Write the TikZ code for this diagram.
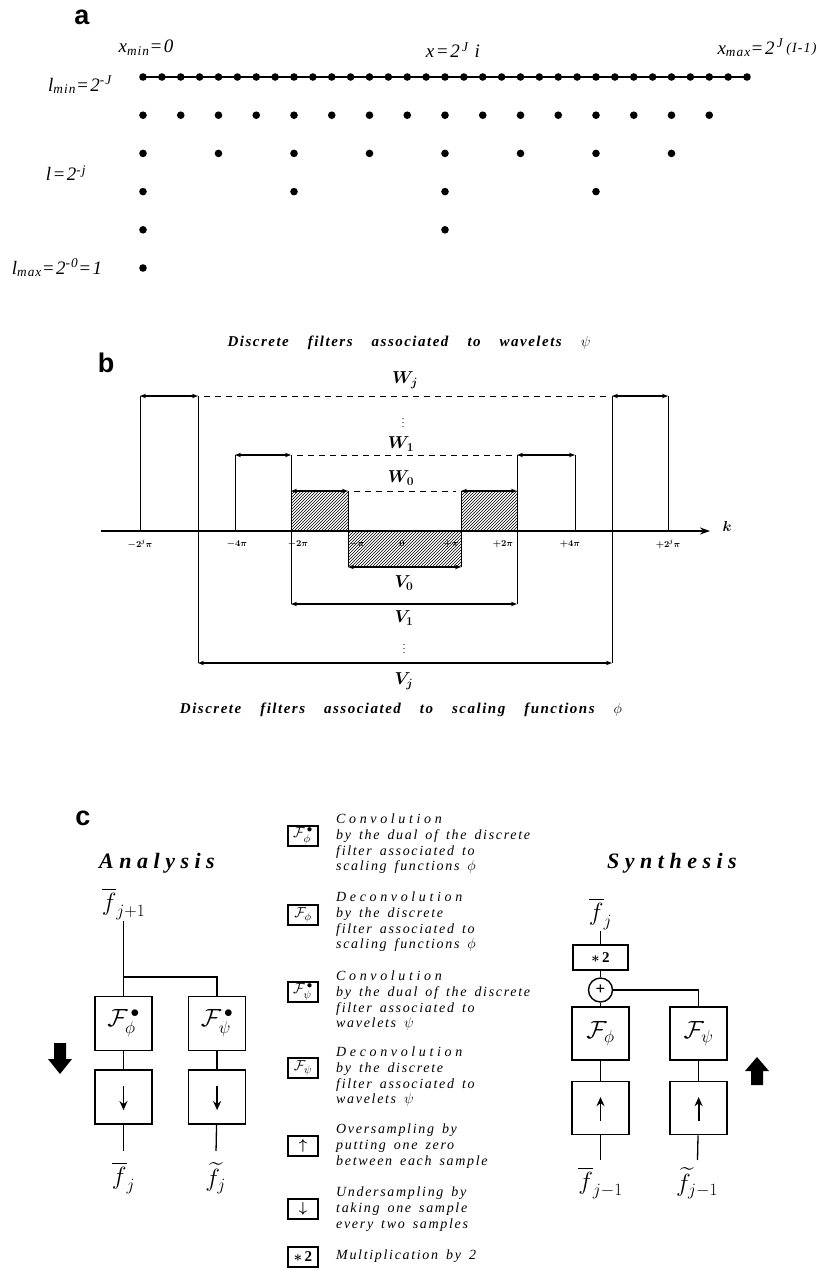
\documentclass[tikz,border=0pt]{standalone}
\usepackage{amsmath}
\usepackage{fontspec}
\setmainfont{Liberation Serif}
\setsansfont{Liberation Sans}
\usetikzlibrary{arrows.meta, positioning, patterns, calc}

\newcommand{\lsub}[1]{\textsubscript{#1}}
\newcommand{\lsup}[1]{\textsuperscript{#1}}
\newcommand{\wide}[2]{{\addfontfeatures{LetterSpace=#1}#2}}
\newcommand{\gaps}[1]{\spaceskip=#1\relax}

\begin{document}
\begin{tikzpicture}[
  x=1pt, y=-1pt,
  plbl/.style={font=\sffamily\bfseries\fontsize{27}{29}\selectfont, inner sep=0pt},
  lbl/.style={font=\fontsize{19}{22}\selectfont\itshape, inner sep=1pt},
  captxt/.style={font=\fontsize{15}{17}\selectfont\bfseries\itshape, inner sep=1pt},
  band/.style={line width=1pt},
  wbar/.style={line width=1.6pt, {Stealth[length=6pt,width=4.5pt]}-{Stealth[length=6pt,width=4.5pt]}},
  gapln/.style={line width=1pt, dash pattern=on 6pt off 5pt},
  hatch/.style={pattern=north east lines},
  ticklbl/.style={font=\fontsize{9}{10}\selectfont\boldmath, inner sep=0pt},
  wlab/.style={font=\fontsize{17}{19}\selectfont\boldmath, inner sep=0pt},
  vdot/.style={font=\fontsize{10}{10}\selectfont\boldmath, inner sep=0pt},
  ttl/.style={font=\fontsize{22}{25}\selectfont\bfseries\itshape, inner sep=1pt},
  sig/.style={font=\fontsize{23}{26}\selectfont, inner sep=1pt},
  fbox/.style={draw, line width=1.6pt, minimum width=57pt, minimum height=54pt, inner sep=0pt,
               font=\fontsize{24}{26}\selectfont},
  mbox/.style={draw, line width=1.6pt, minimum width=55pt, minimum height=25pt, inner sep=0pt,
               font=\fontsize{15}{16}\selectfont\bfseries},
  pls/.style={draw, circle, line width=1.4pt, minimum size=24pt, inner sep=0pt,
              font=\fontsize{17}{17}\selectfont\bfseries},
  lgbox/.style={draw, line width=1.2pt, minimum width=30pt, minimum height=20pt, inner sep=0pt,
                font=\fontsize{15}{16}\selectfont},
  desc/.style={anchor=north west, align=left, inner sep=0pt,
               font=\fontsize{14}{15.6}\selectfont\itshape\addfontfeatures{LetterSpace=12}\gaps{8pt plus 1pt}},
  wire/.style={line width=1.3pt},
  inarr/.style={line width=1.8pt, -{Stealth[length=9pt,width=8pt]}}
]
  \path[use as bounding box, fill=white] (0,0) rectangle (831,1269);

  % ── Panel a: dyadic grid ────────────────────────────────────────────────
  \node[plbl] (la) at (82,17) {a};
  \draw[line width=1.4pt] (143,77) -- (747,77);
  \foreach \r/\n/\s in {0/32/18.875, 1/15/37.75, 2/7/75.5, 3/3/151, 4/1/302, 5/0/0}
    \foreach \i in {0,...,\n}
      \fill ({143+\i*\s},{77+\r*38.2}) circle (3.8);

  \node[lbl] (xmin) at (146,48) {\wide{8}{x\lsub{min}=0}};
  \node[lbl] (xi) at (453,50) {\wide{8}{x=2\lsup{\,J}\,\,i}};
  \node[lbl] (xmax) at (767,48) {\wide{8}{x\lsub{max}=2\lsup{\,J}\,\raisebox{2pt}{\fontsize{14}{14}\selectfont(I-1)}}};
  \node[lbl] (lmin) at (80,85) {\wide{8}{l\lsub{min}=2\lsup{-J}}};
  \node[lbl] (lj) at (66,173) {\wide{8}{l=2\lsup{-j}}};
  \node[lbl] (lmax) at (57,268) {\wide{8}{l\lsub{max}=2\lsup{-0}=1}};

  % ── Panel b: filter bands ───────────────────────────────────────────────
  \node[plbl] (lb) at (106,363) {b};
  \node[captxt] (capw) at (409,343) {\gaps{19pt plus 2pt}\wide{10}{Discrete filters associated to wavelets} $\psi$};
  \node[captxt] (capv) at (401,710) {\gaps{19pt plus 2pt}\wide{10}{Discrete filters associated to scaling functions} $\phi$};

  % hatched W0 and V0
  \fill[hatch] (291,491) rectangle (348,531);
  \fill[hatch] (461,491) rectangle (517,531);
  \fill[hatch] (348,531) rectangle (461,567);

  % axis
  \draw[line width=1.8pt, -{Stealth[length=10pt,width=7pt]}] (101,531) -- (710,531);
  \node[font=\fontsize{15}{15}\selectfont\boldmath, inner sep=0pt] (kk) at (727,526) {$k$};

  % vertical edges
  \draw[band] (140,396) -- (140,531);
  \draw[band] (198,396) -- (198,663);
  \draw[band] (612,396) -- (612,663);
  \draw[band] (668,396) -- (668,531);
  \draw[band] (235,455) -- (235,531);
  \draw[band] (291,455) -- (291,604);
  \draw[band] (517,455) -- (517,604);
  \draw[band] (575,455) -- (575,531);
  \draw[band] (348,491) -- (348,567);
  \draw[band] (461,491) -- (461,567);

  % top edges and brackets
  \draw[wbar] (140,396) -- (198,396);
  \draw[wbar] (612,396) -- (668,396);
  \draw[wbar] (235,455) -- (291,455);
  \draw[wbar] (517,455) -- (575,455);
  \draw[wbar] (291,491) -- (348,491);
  \draw[wbar] (461,491) -- (517,491);
  \draw[wbar] (348,567) -- (461,567);
  \draw[wbar] (291,604) -- (517,604);
  \draw[wbar] (198,663) -- (612,663);
  \draw[gapln] (204,396) -- (607,396);
  \draw[gapln] (297,455) -- (512,455);
  \draw[gapln] (354,491) -- (456,491);

  % tick labels
  \foreach \xx/\tt [count=\k] in {140/{-2^j\pi}, 237/{-4\pi}, 298/{-2\pi}, 357/{-\pi}, 402/{0},
                                  451/{+\pi}, 503/{+2\pi}, 570/{+4\pi}, 668/{+2^j\pi}}
    \node[ticklbl] (tk-\k) at (\xx,544) {$\tt$};

  % band names
  \node[wlab] (wj) at (405,380) {$W_j$};
  \node[vdot] (wd) at (403,420) {$\vdots$};
  \node[wlab] (w1) at (401,444) {$W_1$};
  \node[wlab] (w0) at (401,478) {$W_0$};
  \node[wlab] (v0) at (404,583) {$V_0$};
  \node[wlab] (v1) at (404,618) {$V_1$};
  \node[vdot] (vd) at (404,646) {$\vdots$};
  \node[wlab] (vj) at (404,681) {$V_j$};

  % ── Panel c: analysis ───────────────────────────────────────────────────
  \node[plbl] (lc) at (83,818) {c};
  \node[ttl] (tA) at (157,863) {\wide{25}{Analysis}};
  \node[sig] (fA) at (123.5,904) {$\overline{f}_{j+1}$};
  \node[fbox] (aphi) at (123.5,1023.5) {$\mathcal{F}_{\phi}^{\,\bullet}$};
  \node[fbox, right=35pt of aphi] (apsi) {$\mathcal{F}_{\psi}^{\,\bullet}$};
  \node[fbox, below=18pt of aphi] (adn1) {};
  \node[fbox, below=18pt of apsi] (adn2) {};
  \node[sig] (fbA) at (123.5,1178) {$\overline{f}_{j}$};
  \node[sig] (ftA) at (215.5,1178) {$\widetilde{f}_{j}$};
  \coordinate (brA) at (123.5,977);

  \draw[wire] (fA) -- (aphi);
  \draw[wire] (brA) -| (apsi);
  \draw[wire] (aphi) -- (adn1);
  \draw[wire] (apsi) -- (adn2);
  \draw[wire, shorten >=10pt] (adn1) -- (fbA);
  \draw[wire, shorten >=10pt] (adn2) -- (ftA);
  \draw[inarr] ([yshift=11pt]adn1.center) -- ([yshift=-13pt]adn1.center);
  \draw[inarr] ([yshift=11pt]adn2.center) -- ([yshift=-13pt]adn2.center);
  \fill (54,1043) -- (66,1043) -- (66,1059) -- (72,1059) -- (60,1074) -- (48,1059) -- (54,1059) -- cycle;

  % ── Panel c: legend ─────────────────────────────────────────────────────
  \node[lgbox] (lg1) at (303,836) {$\mathcal{F}_{\phi}^{\,\bullet}$};
  \node[lgbox] (lg2) at (303,915) {$\mathcal{F}_{\phi}$};
  \node[lgbox] (lg3) at (303,992) {$\mathcal{F}_{\psi}^{\,\bullet}$};
  \node[lgbox] (lg4) at (303,1068) {$\mathcal{F}_{\psi}$};
  \node[lgbox] (lg5) at (303,1146) {$\boldsymbol{\uparrow}$};
  \node[lgbox] (lg6) at (303,1209) {$\boldsymbol{\downarrow}$};
  \node[lgbox] (lg7) at (303,1257) {$\boldsymbol{\ast}$\,\textbf{2}};

  \node[desc] (d1) at (336,814) {\wide{26}{Convolution}\\by the dual of the discrete\\filter associated to\\scaling functions $\phi$};
  \node[desc] (d2) at (336,892) {\wide{26}{Deconvolution}\\by the discrete\\filter associated to\\scaling functions $\phi$};
  \node[desc] (d3) at (336,971) {\wide{26}{Convolution}\\by the dual of the discrete\\filter associated to\\wavelets $\psi$};
  \node[desc] (d4) at (336,1047) {\wide{26}{Deconvolution}\\by the discrete\\filter associated to\\wavelets $\psi$};
  \node[desc] (d5) at (336,1124) {Oversampling by\\putting one zero\\between each sample};
  \node[desc] (d6) at (336,1187) {Undersampling by\\taking one sample\\every two samples};
  \node[desc] (d7) at (336,1250) {Multiplication by 2};

  % ── Panel c: synthesis ──────────────────────────────────────────────────
  \node[ttl] (tS) at (672,863) {\wide{25}{Synthesis}};
  \node[sig] (fS) at (600.5,914) {$\overline{f}_{j}$};
  \node[mbox] (mul) at (600.5,957.5) {$\boldsymbol{\ast}$\,2};
  \node[pls] (sum) at (600.5,990) {+};
  \node[fbox, minimum height=53pt] (sphi) at (600.5,1033.5) {$\mathcal{F}_{\phi}$};
  \node[fbox, minimum height=53pt, right=39.5pt of sphi] (spsi) {$\mathcal{F}_{\psi}$};
  \node[fbox, minimum height=53pt, below=20pt of sphi] (sup1) {};
  \node[fbox, minimum height=53pt, below=20pt of spsi] (sup2) {};
  \node[sig] (fbS) at (600.5,1183) {$\overline{f}_{j-1}$};
  \node[sig] (ftS) at (697,1183) {$\widetilde{f}_{j-1}$};

  \draw[wire] (fS) -- (mul);
  \draw[wire] (mul) -- (sum);
  \draw[wire] (sum) -- (sphi);
  \draw[wire] (sum) -| (spsi);
  \draw[wire] (sphi) -- (sup1);
  \draw[wire] (spsi) -- (sup2);
  \draw[wire, shorten >=6pt] (sup1) -- (fbS);
  \draw[wire, shorten >=6pt] (sup2) -- (ftS);
  \draw[inarr] ([yshift=-13pt]sup1.center) -- ([yshift=11pt]sup1.center);
  \draw[inarr] ([yshift=-13pt]sup2.center) -- ([yshift=11pt]sup2.center);
  \fill (751,1085) -- (763,1085) -- (763,1071) -- (769,1071) -- (757,1057) -- (745,1071) -- (751,1071) -- cycle;
\end{tikzpicture}
\end{document}
